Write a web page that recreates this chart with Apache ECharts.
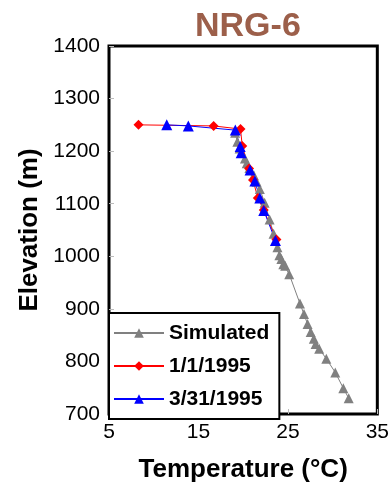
<!DOCTYPE html>
<html>
<head>
<meta charset="utf-8">
<script src="https://cdn.jsdelivr.net/npm/echarts@6/dist/echarts.min.js"></script>
<style>
html, body { margin: 0; padding: 0; background: #fff; }
#chart { width: 392px; height: 488px; }
</style>
</head>
<body>
<div id="chart"></div>
<script>
// 数据（温度 °C, 高程 m）
var simTemp = [19.1, 19.35, 19.6, 20.2, 20.4, 20.7, 21.2, 21.5, 21.86, 22.4, 22.96, 23.4, 23.83, 24.05, 24.27, 24.49, 24.7, 25.15, 26.35, 26.8, 27.2, 27.55, 27.9, 28.1, 28.5, 29.3, 30.3, 31.2, 31.8];
var simElev = [1235, 1218, 1205, 1186, 1177, 1168, 1154, 1142, 1128, 1102, 1070, 1043, 1017, 1002, 995, 985, 982, 966, 910, 890, 871, 856, 843, 833, 824, 805, 779, 749, 730];
var janTemp = [8.3, 16.7, 19.7, 19.9, 20.66, 21.1, 21.64, 22.3, 23.72];
var janElev = [1250, 1248, 1242, 1210, 1167, 1145, 1111, 1088, 1032];
var marTemp = [11.46, 13.87, 19.12, 19.67, 19.78, 20.77, 21.31, 21.86, 22.3, 23.61];
var marElev = [1250, 1248, 1240, 1209, 1197, 1164, 1143, 1111, 1087, 1030];
var xTicks = [5, 15, 25, 35];
var yTicks = [700, 800, 900, 1000, 1100, 1200, 1300, 1400];

function pairs(xs, ys) {
	var out = [];
	for (var i = 0; i < xs.length; i++) {
		out.push([xs[i], ys[i]]);
	}
	return out;
}

var font = '"Liberation Sans", Arial, sans-serif';
var myChart = echarts.init(document.getElementById('chart'));
var options = {
	animation : false,
	title : {
		text : 'NRG-6',
		left : 190,
		top : 5,
		textStyle : {
			fontFamily : font,
			fontWeight : 'bold',
			fontSize : 34,
			color : '#9c5f4a'
		}
	},
	grid : {
		left : 109,
		right : 9,
		top : 46,
		bottom : 69,
		show : true,
		borderColor : '#000',
		borderWidth : 3
	},
	legend : {
		orient : 'vertical',
		left : 109,
		top : 313,
		padding : [8, 10, 8, 4],
		itemGap : 9,
		itemWidth : 50,
		itemHeight : 12,
		backgroundColor : '#fff',
		borderColor : '#000',
		borderWidth : 2,
		textStyle : {
			fontFamily : font,
			fontWeight : 'bold',
			fontSize : 21,
			lineHeight : 24,
			color : '#000'
		},
		data : ['Simulated', '1/1/1995', '3/31/1995']
	},
	xAxis : {
		type : 'value',
		min : 5,
		max : 35,
		name : 'Temperature (°C)',
		nameLocation : 'middle',
		nameGap : 43,
		nameTextStyle : {
			fontFamily : font,
			fontWeight : 'bold',
			fontSize : 26,
			color : '#000'
		},
		splitLine : { show : false },
		axisLine : { show : false },
		axisTick : {
			inside : true,
			length : 5,
			customValues : xTicks,
			lineStyle : { color : '#bbb' }
		},
		axisLabel : {
			customValues : xTicks,
			fontFamily : font,
			fontSize : 21,
			color : '#000',
			margin : 8
		}
	},
	yAxis : {
		type : 'value',
		min : 700,
		max : 1400,
		interval : 100,
		name : 'Elevation (m)',
		nameLocation : 'middle',
		nameGap : 60,
		nameTextStyle : {
			fontFamily : font,
			fontWeight : 'bold',
			fontSize : 26,
			color : '#000'
		},
		splitLine : { show : false },
		axisLine : { show : false },
		axisTick : {
			inside : true,
			length : 5,
			customValues : yTicks,
			lineStyle : { color : '#bbb' }
		},
		axisLabel : {
			customValues : yTicks,
			formatter : function(v) { return String(v); },
			fontFamily : font,
			fontSize : 21,
			color : '#000',
			margin : 9
		}
	},
	series : [ {
		name : 'Simulated',
		type : 'line',
		data : pairs(simTemp, simElev),
		symbol : 'triangle',
		symbolSize : 10,
		itemStyle : { color : '#808080' },
		lineStyle : { color : '#808080', width : 1 }
	}, {
		name : '1/1/1995',
		type : 'line',
		data : pairs(janTemp, janElev),
		symbol : 'diamond',
		symbolSize : 10,
		itemStyle : { color : '#ff0000' },
		lineStyle : { color : '#ff0000', width : 1 }
	}, {
		name : '3/31/1995',
		type : 'line',
		data : pairs(marTemp, marElev),
		symbol : 'triangle',
		symbolSize : 11,
		itemStyle : { color : '#0000ff' },
		lineStyle : { color : '#0000ff', width : 1 }
	} ]
};
myChart.setOption(options);
</script>
</body>
</html>
